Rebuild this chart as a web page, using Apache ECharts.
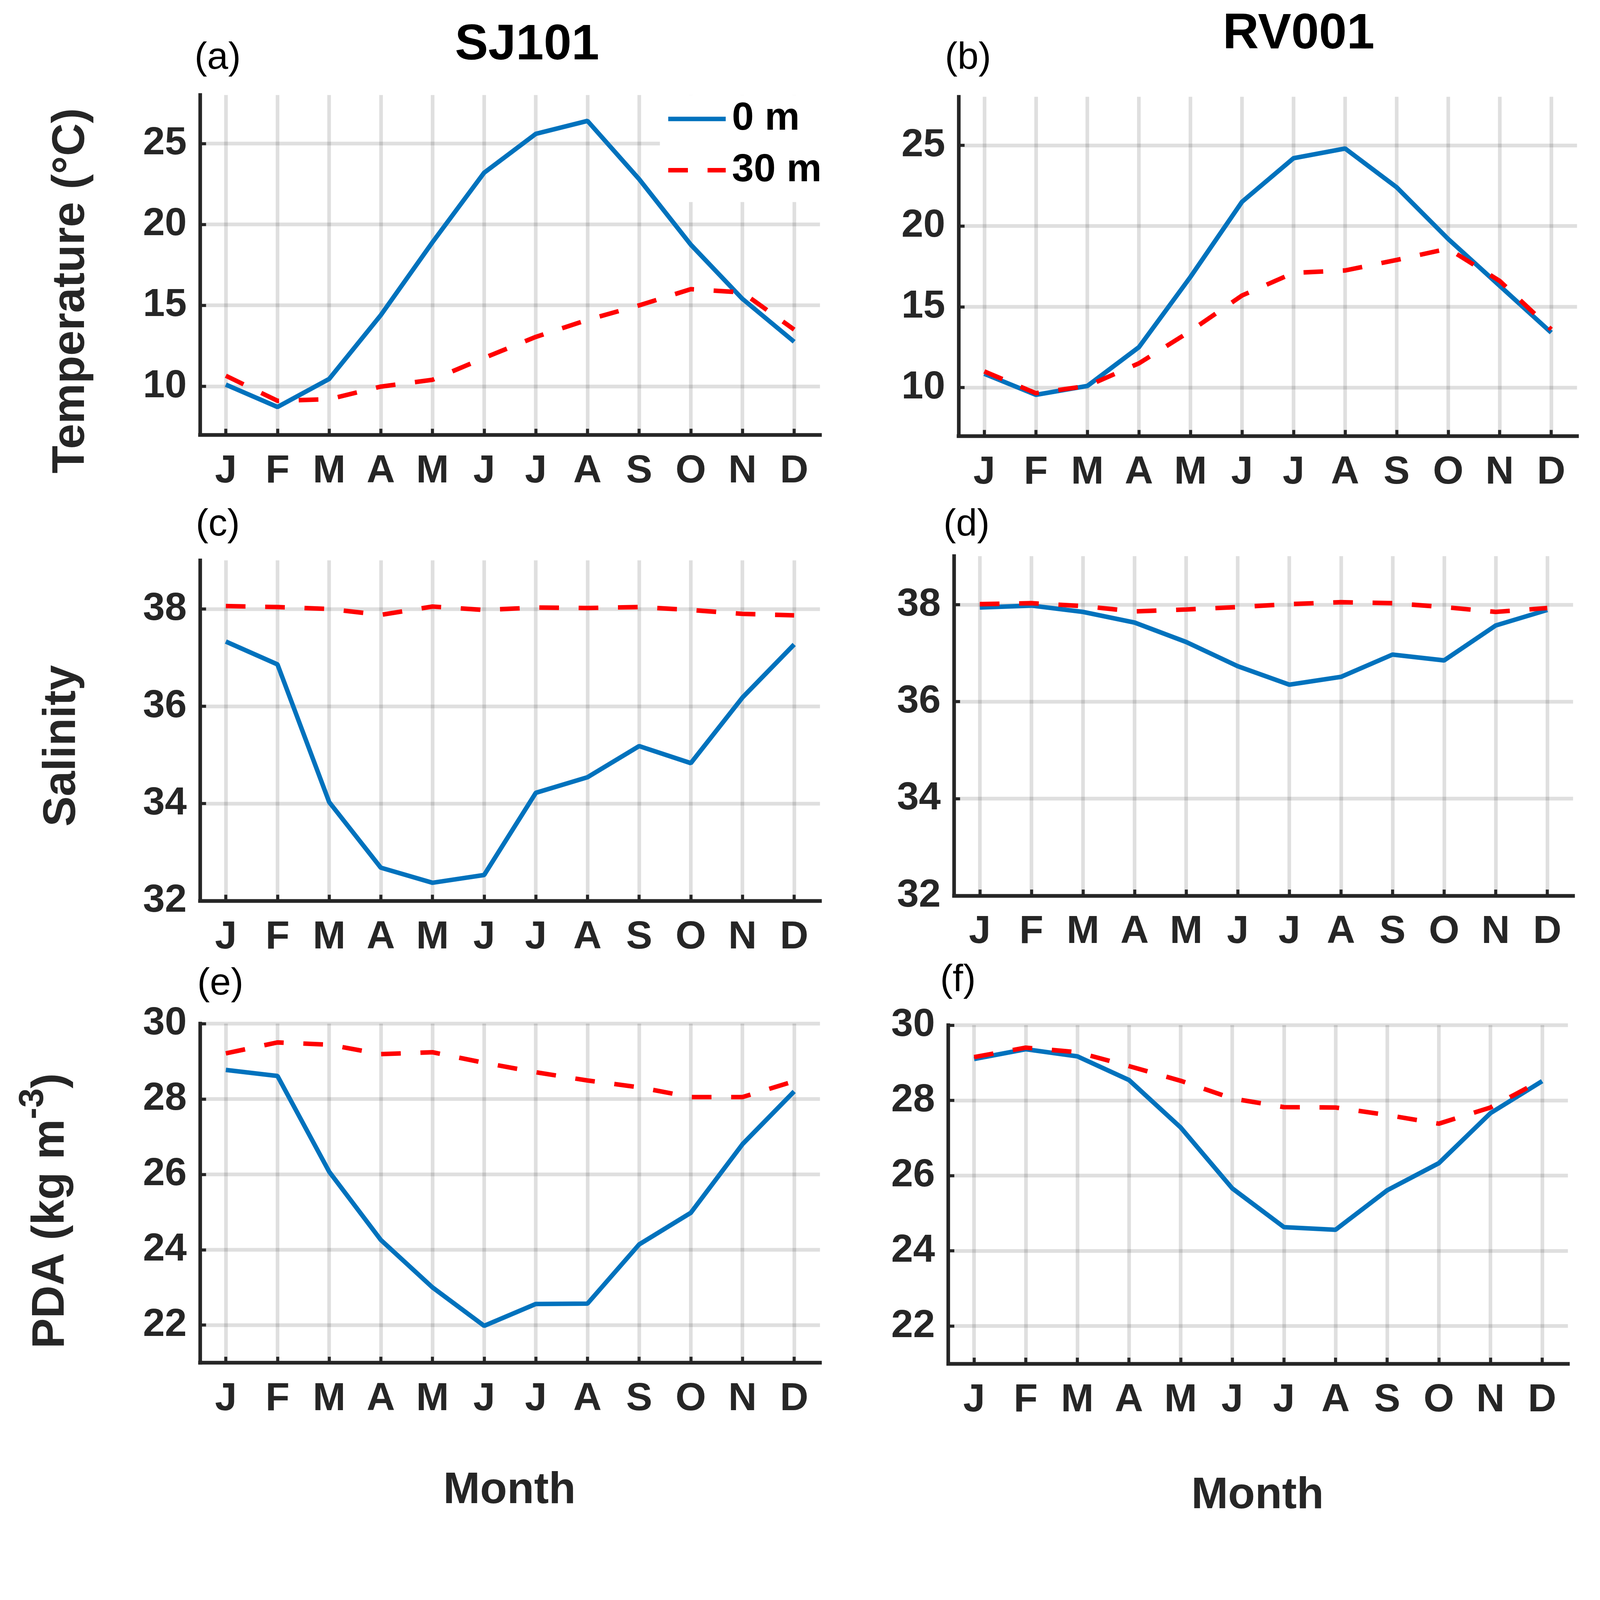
<!DOCTYPE html>
<html><head><meta charset="utf-8">
<script src="https://cdn.jsdelivr.net/npm/echarts@6/dist/echarts.min.js"></script>
<style>html,body{margin:0;padding:0;background:#fff;overflow:hidden}#c{width:100vw;height:100vh}</style>
</head><body><div id="c"></div>
<script>
// ---- data ----
const months = ['J','F','M','A','M','J','J','A','S','O','N','D'];
const monthNums = [1,2,3,4,5,6,7,8,9,10,11,12];
const tempTicks = [10,15,20,25];
const salTicks = [32,34,36,38];
const pdaTicks = [22,24,26,28,30];

const sjTemp0  = [10.1, 8.72, 10.45, 14.4, 18.9, 23.2, 25.6, 26.4, 22.8, 18.75, 15.4, 12.75];
const sjTemp30 = [10.65, 9.1, 9.2, 9.98, 10.4, 11.75, 13.05, 14.1, 15.0, 16.0, 15.8, 13.5];
const rvTemp0  = [10.85, 9.55, 10.1, 12.5, 16.85, 21.5, 24.2, 24.8, 22.4, 19.2, 16.3, 13.4];
const rvTemp30 = [11.0, 9.65, 10.1, 11.5, 13.5, 15.7, 17.1, 17.25, 17.9, 18.6, 16.6, 13.6];

const sjSal0  = [37.33, 36.86, 34.03, 32.68, 32.37, 32.53, 34.22, 34.54, 35.18, 34.83, 36.18, 37.27];
const sjSal30 = [38.06, 38.04, 38.0, 37.88, 38.05, 37.98, 38.03, 38.02, 38.04, 37.98, 37.9, 37.87];
const rvSal0  = [37.94, 37.98, 37.85, 37.63, 37.23, 36.73, 36.35, 36.51, 36.97, 36.85, 37.57, 37.89];
const rvSal30 = [38.01, 38.03, 37.97, 37.86, 37.9, 37.95, 38.01, 38.05, 38.03, 37.95, 37.85, 37.93];

const sjPda0  = [28.77, 28.61, 26.07, 24.26, 23.0, 21.98, 22.56, 22.57, 24.14, 24.98, 26.8, 28.2];
const sjPda30 = [29.21, 29.5, 29.44, 29.19, 29.24, 28.96, 28.71, 28.49, 28.31, 28.05, 28.05, 28.47];
const rvPda0  = [29.1, 29.36, 29.17, 28.54, 27.28, 25.66, 24.63, 24.56, 25.61, 26.33, 27.66, 28.51];
const rvPda30 = [29.15, 29.4, 29.28, 28.91, 28.52, 28.05, 27.82, 27.81, 27.61, 27.38, 27.81, 28.54];

// ---- style (designed in 5288x5049 reference pixels, scaled to viewport) ----
const el = document.getElementById('c');
const k = Math.min(el.clientWidth / 5288, el.clientHeight / 5049);
const s = v => v * k;
const FONT = '"Liberation Sans", Arial, Helvetica, sans-serif';
const TXT = '#262626';
const GRIDC = 'rgba(38,38,38,0.15)';
const BLUE = '#0072BD';
const RED = '#FF0000';

const panels = [
  {grid:[661, 314, 2049, 1123], y:[7,28], ticks:tempTicks, s0:sjTemp0, s30:sjTemp30},
  {grid:[3168, 320, 2044, 1121], y:[7,28], ticks:tempTicks, s0:rvTemp0, s30:rvTemp30},
  {grid:[661, 1852, 2049, 1125], y:[32,39], ticks:salTicks, s0:sjSal0, s30:sjSal30},
  {grid:[3153, 1838, 2046, 1122], y:[32,39], ticks:salTicks, s0:rvSal0, s30:rvSal30},
  {grid:[661, 3383, 2049, 1121], y:[21,30], ticks:pdaTicks, s0:sjPda0, s30:sjPda30},
  {grid:[3134, 3388, 2048, 1119], y:[21,30], ticks:pdaTicks, s0:rvPda0, s30:rvPda30}
];

const grids = [], xAxes = [], yAxes = [], series = [];
panels.forEach((p, i) => {
  grids.push({left:s(p.grid[0]), top:s(p.grid[1]), width:s(p.grid[2]), height:s(p.grid[3]), containLabel:false});
  xAxes.push({
    type:'value', gridIndex:i, min:0.5, max:12.5,
    axisLine:{show:true, onZero:false, lineStyle:{color:TXT, width:s(12), cap:'square'}},
    axisTick:{show:true, inside:true, length:s(20), customValues:monthNums, lineStyle:{color:TXT, width:s(10)}},
    axisLabel:{show:true, customValues:monthNums, margin:s(56), color:TXT, fontSize:s(130), fontWeight:'bold', fontFamily:FONT,
      formatter:(v)=>months[Math.round(v)-1]},
    splitLine:{show:true, lineStyle:{color:GRIDC, width:s(12)}}
  });
  yAxes.push({
    type:'value', gridIndex:i, min:p.y[0], max:p.y[1],
    axisLine:{show:true, onZero:false, lineStyle:{color:TXT, width:s(12), cap:'square'}},
    axisTick:{show:true, inside:true, length:s(20), customValues:p.ticks, lineStyle:{color:TXT, width:s(10)}},
    axisLabel:{show:true, customValues:p.ticks, margin:s(44), color:TXT, fontSize:s(130), fontWeight:'bold', fontFamily:FONT},
    splitLine:{show:true, lineStyle:{color:GRIDC, width:s(12)}}
  });
  series.push({
    type:'line', name:'0 m', xAxisIndex:i, yAxisIndex:i, symbol:'none', z:3,
    data:p.s0.map((v,j)=>[monthNums[j], v]),
    lineStyle:{color:BLUE, width:s(15)}, itemStyle:{color:BLUE}
  });
  series.push({
    type:'line', name:'30 m', xAxisIndex:i, yAxisIndex:i, symbol:'none', z:4,
    data:p.s30.map((v,j)=>[monthNums[j], v]),
    lineStyle:{color:RED, width:s(15), type:[s(65), s(65)]}, itemStyle:{color:RED}
  });
});

function txt(t, x, y, size, weight, color, align, rot) {
  return {type:'text', x:s(x), y:s(y), rotation:rot||0, z:10,
    style:{text:t, fontSize:s(size), fontWeight:weight, fontFamily:FONT, fill:color,
      align:align, textAlign:align, verticalAlign:'middle', textVerticalAlign:'middle'}};
}
const R = Math.PI/2;
const graphics = [
  txt('SJ101', 1742, 151, 165, 'bold', '#000', 'center'),
  txt('RV001', 4292, 114, 165, 'bold', '#000', 'center'),
  txt('(a)', 643, 193, 125, 'normal', '#000', 'left'),
  txt('(b)', 3123, 193, 125, 'normal', '#000', 'left'),
  txt('(c)', 647, 1735, 125, 'normal', '#000', 'left'),
  txt('(d)', 3118, 1735, 125, 'normal', '#000', 'left'),
  txt('(e)', 652, 3252, 125, 'normal', '#000', 'left'),
  txt('(f)', 3107, 3241, 125, 'normal', '#000', 'left'),
  txt('Temperature (°C)', 236, 961, 150, 'bold', TXT, 'center', R),
  txt('Salinity', 206, 2465, 150, 'bold', TXT, 'center', R),
  {type:'group', x:s(169), y:s(4002), rotation:R, children:[
    txt('PDA (kg m', -455, 0, 150, 'bold', TXT, 'left'),
    txt('-3', 303, -59, 115, 'bold', TXT, 'left'),
    txt(')', 405, 0, 150, 'bold', TXT, 'left')
  ]},
  txt('Month', 1684, 4928, 146, 'bold', TXT, 'center'),
  txt('Month', 4156, 4945, 146, 'bold', TXT, 'center')
];

const chart = echarts.init(el, null, {renderer:'canvas'});
chart.setOption({
  animation:false,
  backgroundColor:'#fff',
  textStyle:{fontFamily:FONT},
  grid:grids, xAxis:xAxes, yAxis:yAxes, series:series,
  legend:{
    data:['0 m','30 m'], orient:'vertical', left:s(2181), top:s(314),
    padding:[s(14),s(10),s(40),s(20)], itemGap:s(39), itemWidth:s(190), itemHeight:s(40),
    backgroundColor:'#fff', selectedMode:false, z:8,
    itemStyle:{opacity:0},
    lineStyle:{width:s(15), type:'inherit', opacity:1},
    textStyle:{fontSize:s(130), fontWeight:'bold', color:'#000', fontFamily:FONT, padding:[0,0,0,s(14)]}
  },
  graphic:graphics
});
</script></body></html>
